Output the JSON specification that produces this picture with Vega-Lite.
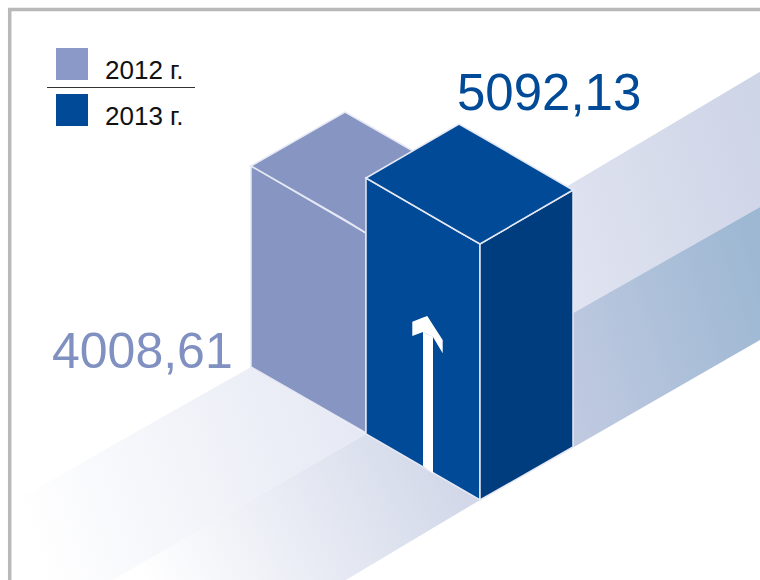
{"$schema":"https://vega.github.io/schema/vega-lite/v6.json","width":760,"height":580,"padding":0,"autosize":{"type":"none"},"background":"#ffffff","config":{"view":{"stroke":null}},
"datasets":{
"faces":[
{"f":"urUpper","x":560,"y":190.5,"y2":320.5},{"f":"urUpper","x":760,"y":71.7,"y2":207},
{"f":"urLower","x":560,"y":320.5,"y2":455},{"f":"urLower","x":760,"y":207,"y2":340},
{"f":"ll1","x":12,"y":503,"y2":580},{"f":"ll1","x":113,"y":445,"y2":580},{"f":"ll1","x":251,"y":367,"y2":500.5},{"f":"ll1","x":366,"y":434,"y2":434},
{"f":"ll2","x":113,"y":580,"y2":580},{"f":"ll2","x":346,"y":445.5,"y2":580},{"f":"ll2","x":366,"y":434,"y2":568},{"f":"ll2","x":480,"y":500,"y2":500},
{"f":"backLeft","x":251,"y":166,"y2":367},{"f":"backLeft","x":366,"y":233,"y2":433},
{"f":"backTop","x":251,"y":166,"y2":166},{"f":"backTop","x":345,"y":112,"y2":220},{"f":"backTop","x":366,"y":124,"y2":233},{"f":"backTop","x":460,"y":178,"y2":178},
{"f":"frontLeft","x":366,"y":178,"y2":434},{"f":"frontLeft","x":480,"y":244,"y2":500},
{"f":"frontRight","x":480,"y":244,"y2":500},{"f":"frontRight","x":573,"y":190,"y2":447},
{"f":"frontTop","x":366,"y":178,"y2":178},{"f":"frontTop","x":459,"y":124,"y2":232},{"f":"frontTop","x":480,"y":136,"y2":244},{"f":"frontTop","x":573,"y":190,"y2":190},
{"f":"shaft","x":423,"y":331.7,"y2":466},{"f":"shaft","x":433,"y":336.7,"y2":473.5},
{"f":"head","x":412.3,"y":321.7,"y2":336},{"f":"head","x":423,"y":317.6,"y2":332},{"f":"head","x":427.3,"y":316,"y2":334},{"f":"head","x":433,"y":325,"y2":337},{"f":"head","x":442.7,"y":340,"y2":353.3}
]
},
"encoding":{
"x":{"field":"x","type":"quantitative","scale":{"domain":[0,760],"nice":false,"zero":false},"axis":null},
"y":{"field":"y","type":"quantitative","scale":{"domain":[0,580],"nice":false,"zero":false,"reverse":true},"axis":null}
},
"layer":[
{"data":{"name":"faces"},"transform":[{"filter":"datum.f==='urUpper'"}],"encoding":{"y2":{"field":"y2"}},"mark":{"type":"area","orient":"vertical","fill":{"gradient":"linear","x1":0,"y1":0.7,"x2":1,"y2":0.3,"stops":[{"offset":0,"color":"#e0e3f0"},{"offset":1,"color":"#ced5e7"}]}}},
{"data":{"name":"faces"},"transform":[{"filter":"datum.f==='urLower'"}],"encoding":{"y2":{"field":"y2"}},"mark":{"type":"area","orient":"vertical","fill":{"gradient":"linear","x1":0,"y1":0.7,"x2":1,"y2":0.3,"stops":[{"offset":0,"color":"#c0cae1"},{"offset":1,"color":"#9eb8d3"}]}}},
{"data":{"name":"faces"},"transform":[{"filter":"datum.f==='ll1'"}],"encoding":{"y2":{"field":"y2"}},"mark":{"type":"area","orient":"vertical","fill":{"gradient":"linear","x1":0,"y1":0.6,"x2":1,"y2":0.4,"stops":[{"offset":0,"color":"#ffffff"},{"offset":1,"color":"#e6e9f4"}]}}},
{"data":{"name":"faces"},"transform":[{"filter":"datum.f==='ll2'"}],"encoding":{"y2":{"field":"y2"}},"mark":{"type":"area","orient":"vertical","fill":{"gradient":"linear","x1":0,"y1":0.6,"x2":1,"y2":0.4,"stops":[{"offset":0,"color":"#ffffff"},{"offset":1,"color":"#d0d6e8"}]}}},
{"data":{"name":"faces"},"transform":[{"filter":"datum.f==='backLeft'"}],"encoding":{"y2":{"field":"y2"}},"mark":{"type":"area","orient":"vertical","fill":"#8795c3","stroke":"#e6e9f4","strokeWidth":1.5}},
{"data":{"name":"faces"},"transform":[{"filter":"datum.f==='backTop'"}],"encoding":{"y2":{"field":"y2"}},"mark":{"type":"area","orient":"vertical","fill":"#8795c3","stroke":"#e6e9f4","strokeWidth":1.5}},
{"data":{"name":"faces"},"transform":[{"filter":"datum.f==='frontLeft'"}],"encoding":{"y2":{"field":"y2"}},"mark":{"type":"area","orient":"vertical","fill":"#004a97","stroke":"#e6e9f4","strokeWidth":1.5}},
{"data":{"name":"faces"},"transform":[{"filter":"datum.f==='frontRight'"}],"encoding":{"y2":{"field":"y2"}},"mark":{"type":"area","orient":"vertical","fill":"#003d7f","stroke":"#e6e9f4","strokeWidth":1.5}},
{"data":{"name":"faces"},"transform":[{"filter":"datum.f==='frontTop'"}],"encoding":{"y2":{"field":"y2"}},"mark":{"type":"area","orient":"vertical","fill":"#004a97","stroke":"#e6e9f4","strokeWidth":1.5}},
{"data":{"name":"faces"},"transform":[{"filter":"datum.f==='shaft'"}],"encoding":{"y2":{"field":"y2"}},"mark":{"type":"area","orient":"vertical","fill":"#ffffff"}},
{"data":{"name":"faces"},"transform":[{"filter":"datum.f==='head'"}],"encoding":{"y2":{"field":"y2"}},"mark":{"type":"area","orient":"vertical","fill":"#ffffff"}},
{"data":{"values":[{"x":8,"x2":760,"y":9.5}]},"mark":{"type":"rule","color":"#b9b9b9","strokeWidth":3.5},"encoding":{"x2":{"field":"x2"}}},
{"data":{"values":[{"x":9.7,"y":8,"y2":580}]},"mark":{"type":"rule","color":"#b9b9b9","strokeWidth":3.5},"encoding":{"y2":{"field":"y2"}}},
{"data":{"values":[{"x":47,"x2":195,"y":87.5}]},"mark":{"type":"rule","color":"#333333","strokeWidth":1},"encoding":{"x2":{"field":"x2"}}},
{"data":{"values":[{"year":"2012 г.","x":56,"x2":88,"y":48,"y2":80},{"year":"2013 г.","x":56,"x2":88,"y":94,"y2":126}]},"mark":{"type":"rect"},"encoding":{"x2":{"field":"x2"},"y2":{"field":"y2"},"color":{"field":"year","type":"nominal","legend":null,"scale":{"domain":["2012 г.","2013 г."],"range":["#8a99c7","#004a97"]}}}},
{"data":{"values":[{"t":"2012 г.","x":105,"y":78.5},{"t":"2013 г.","x":105,"y":124.5}]},"mark":{"type":"text","align":"left","baseline":"alphabetic","font":"Liberation Sans","fontSize":26,"color":"#111111"},"encoding":{"text":{"field":"t"}}},
{"data":{"values":[{"t":"4008,61","x":52,"y":368}]},"mark":{"type":"text","align":"left","baseline":"alphabetic","font":"Liberation Sans","fontSize":50,"color":"#8090c0"},"encoding":{"text":{"field":"t"}}},
{"data":{"values":[{"t":"5092,13","x":457,"y":110}]},"mark":{"type":"text","align":"left","baseline":"alphabetic","font":"Liberation Sans","fontSize":51,"color":"#004a97"},"encoding":{"text":{"field":"t"}}}
]}
